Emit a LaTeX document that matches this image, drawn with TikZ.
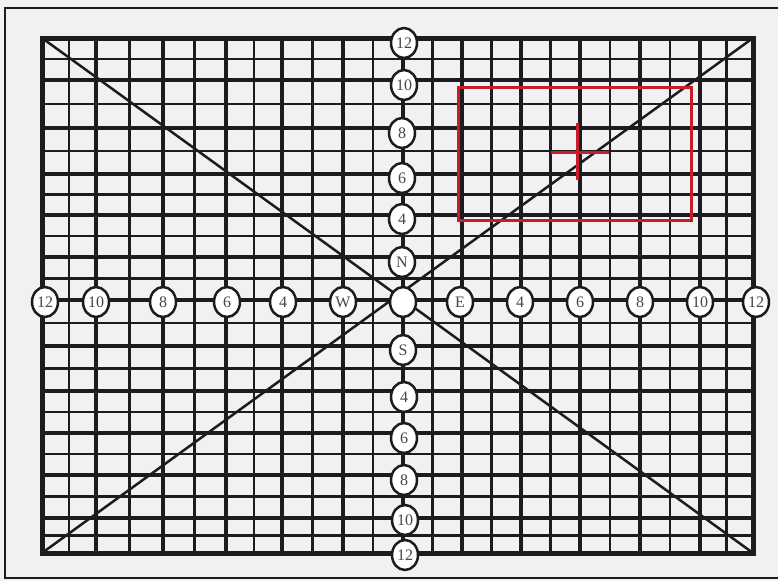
\documentclass[tikz,border=0pt]{standalone}
\usepackage{fontspec}
\setmainfont{Liberation Serif}
\usetikzlibrary{shapes.geometric}
\definecolor{bg}{RGB}{241,241,244}
\definecolor{ink}{RGB}{28,28,30}
\definecolor{redline}{RGB}{200,28,40}
\definecolor{lbl}{RGB}{70,70,75}
\tikzset{
  thickline/.style={ink,line width=4.6pt},
  thinline/.style={ink,line width=2.3pt},
  diagline/.style={ink,line width=2.5pt},
  frameline/.style={ink,line width=1.4pt},
  redbox/.style={redline,line width=3pt},
  tag/.style={ellipse,draw=ink,line width=2.5pt,fill=white,inner sep=0pt,
    minimum width=26pt,minimum height=30pt,font=\fontsize{16}{16}\selectfont,text=lbl}
}
\begin{document}
\begin{tikzpicture}[x=1pt,y=-1pt]
\fill[bg] (0,0) rectangle (778,581);
\useasboundingbox (0,0) rectangle (778,581);
% outer frame
\draw[frameline] (778,8) -- (5,8) -- (5,578) -- (778,578);
% grid positions
\def\xs{42,96,163,226,282,343,403,462,521,580,640,700,753}
\def\ys{38,80,128,174,215,257,300,346,391,433,475,518,553}
% thin lines (midpoints)
\foreach \a/\b in {42/96,96/163,163/226,226/282,282/343,343/403,403/462,462/521,521/580,580/640,640/700,700/753}{
  \draw[thinline] ({(\a+\b)/2},38) -- ({(\a+\b)/2},553);
}
\foreach \a/\b in {38/80,80/128,128/174,174/215,215/257,257/300,300/346,346/391,391/433,433/475,475/518,518/553}{
  \draw[thinline] (42,{(\a+\b)/2}) -- (753,{(\a+\b)/2});
}
% thick lines
\foreach \x in \xs { \draw[thickline] (\x,38) -- (\x,553); }
\foreach \y in \ys { \draw[thickline] (42,\y) -- (753,\y); }
\draw[ink,line width=5pt] (42,38) rectangle (753,553);
% corners and diagonals
\coordinate (tl) at (42,38);
\coordinate (tr) at (753,38);
\coordinate (bl) at (42,553);
\coordinate (br) at (753,553);
\draw[diagline] (tl) -- (br);
\draw[diagline] (bl) -- (tr);
% red box and cross
\draw[redbox] (458,87) rectangle (691,220);
\coordinate (cxt) at (577,123);
\coordinate (cxb) at (577,180);
\coordinate (cxl) at (551,152);
\coordinate (cxr) at (609,152);
\draw[redbox] (cxt) -- (cxb);
\draw[redbox] (cxl) -- (cxr);
% horizontal axis labels
\node[tag] (h12l) at (45,302) {12};
\node[tag] (h10l) at (96,302) {10};
\node[tag] (h8l) at (163,302) {8};
\node[tag] (h6l) at (227,302) {6};
\node[tag] (h4l) at (283,302) {4};
\node[tag] (hW) at (343,302) {W};
\node[tag] (c) at (403,302) {};
\node[tag] (hE) at (460,302) {E};
\node[tag] (h4r) at (520,302) {4};
\node[tag] (h6r) at (580,302) {6};
\node[tag] (h8r) at (640,302) {8};
\node[tag] (h10r) at (700,302) {10};
\node[tag] (h12r) at (756,302) {12};
% vertical axis labels
\node[tag] (v12t) at (404,43) {12};
\node[tag] (v10t) at (404,85) {10};
\node[tag] (v8t) at (402,133) {8};
\node[tag] (v6t) at (402,178) {6};
\node[tag] (v4t) at (402,219) {4};
\node[tag] (vN) at (402,262) {N};
\node[tag] (vS) at (403,350) {S};
\node[tag] (v4b) at (404,397) {4};
\node[tag] (v6b) at (404,438) {6};
\node[tag] (v8b) at (404,480) {8};
\node[tag] (v10b) at (405,520) {10};
\node[tag] (v12b) at (405,555) {12};
\end{tikzpicture}
\end{document}
